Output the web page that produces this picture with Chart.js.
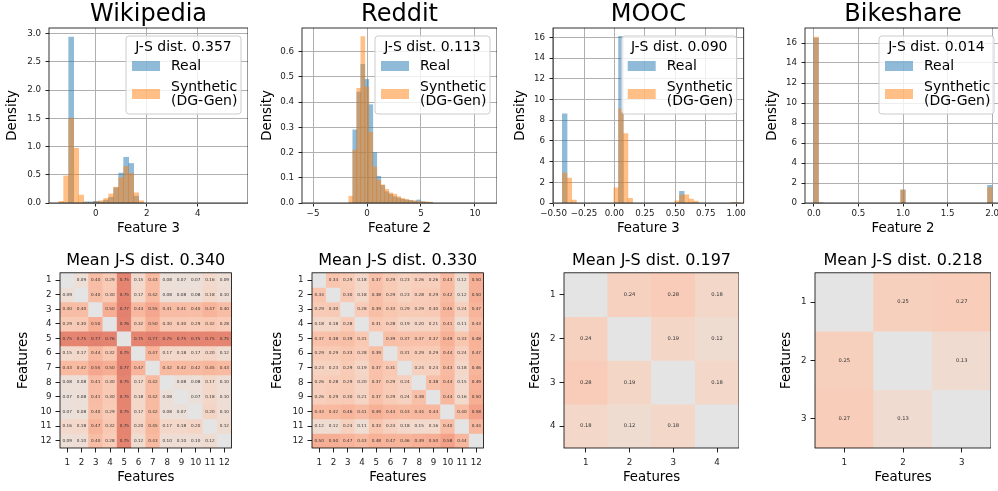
<!DOCTYPE html>
<html>
<head>
<meta charset="utf-8">
<script src="https://cdn.jsdelivr.net/npm/chart.js@4.4.0/dist/chart.umd.min.js"></script>
<style>
  html, body { margin: 0; padding: 0; background: #fff; overflow: hidden; }
  body { width: 998px; height: 491px; position: relative; }
  canvas { position: absolute; }
</style>
</head>
<body>
<canvas id="hist-wiki"></canvas>
<canvas id="hist-reddit"></canvas>
<canvas id="hist-mooc"></canvas>
<canvas id="hist-bike"></canvas>
<canvas id="heat-wiki"></canvas>
<canvas id="heat-reddit"></canvas>
<canvas id="heat-mooc"></canvas>
<canvas id="heat-bike"></canvas>
<script>
Chart.defaults.font.family = '"DejaVu Sans", sans-serif';
Chart.defaults.color = '#222';

// --- histogram data (bin centres, densities) ---
const wikiBins = [-1.353, -1.157, -0.961, -0.765, -0.569, -0.373, -0.177, 0.019, 0.215, 0.411, 0.607, 0.803, 0.999, 1.195, 1.391, 1.587, 1.783];
const wikiReal = [0, 0, 2.94, 0, 0, 0.02, 0.02, 0.03, 0.02, 0.05, 0.10, 0.27, 0.53, 0.81, 0.70, 0.12, 0];
const wikiSynth = [0.03, 0.48, 1.50, 0.97, 0.14, 0.01, 0, 0.02, 0.04, 0.08, 0.16, 0.28, 0.45, 0.65, 0.52, 0.18, 0.04];

const redditBins = [-1.50, -1.13, -0.76, -0.39, -0.02, 0.35, 0.72, 1.09, 1.46, 1.83, 2.20, 2.57, 2.94, 3.31, 3.68, 4.05, 4.42, 4.79, 5.16, 5.53, 5.90];
const redditReal = [0, 0.29, 0.44, 0.55, 0.49, 0.39, 0.20, 0.106, 0.07, 0.045, 0.035, 0.025, 0.02, 0.015, 0.012, 0.01, 0.008, 0.012, 0.005, 0.003, 0.002];
const redditSynth = [0.027, 0.21, 0.455, 0.66, 0.46, 0.28, 0.143, 0.09, 0.072, 0.054, 0.04, 0.035, 0.025, 0.018, 0.014, 0.01, 0.008, 0.006, 0.005, 0.004, 0.003];

const moocBins = [-0.409, -0.3705, -0.332, 0.0145, 0.053, 0.0915, 0.130, 0.515, 0.5535, 0.592, 0.6305, 0.669, 0.977, 1.0155];
const moocReal = [8.6, 0, 0, 0, 16.1, 0, 0, 0, 1.13, 0, 0, 0, 0, 0];
const moocSynth = [2.9, 2.4, 0.28, 1.46, 9.1, 6.7, 0.45, 0.2, 0.78, 0.78, 0.39, 0.19, 0.07, 0.07];

const bikeBins = [0.02564, 0.07692, 1.0, 1.97436];
const bikeReal = [16.5, 0, 1.3, 1.77];
const bikeSynth = [16.6, 0, 1.3, 1.54];

// --- axis ticks ---
const wikiXTicks = [0, 2, 4];
const wikiXLabels = ['0', '2', '4'];
const wikiYTicks = [0, 0.5, 1, 1.5, 2, 2.5, 3];
const wikiYLabels = ['0.0', '0.5', '1.0', '1.5', '2.0', '2.5', '3.0'];
const redditXTicks = [-5, 0, 5, 10];
const redditXLabels = ['\u22125', '0', '5', '10'];
const redditYTicks = [0, 0.1, 0.2, 0.3, 0.4, 0.5, 0.6];
const redditYLabels = ['0.0', '0.1', '0.2', '0.3', '0.4', '0.5', '0.6'];
const moocXTicks = [-0.5, -0.25, 0, 0.25, 0.5, 0.75, 1];
const moocXLabels = ['\u22120.50', '\u22120.25', '0.00', '0.25', '0.50', '0.75', '1.00'];
const bikeXTicks = [0, 0.5, 1, 1.5, 2];
const bikeXLabels = ['0.0', '0.5', '1.0', '1.5', '2.0'];
const densityTicks = [0, 2, 4, 6, 8, 10, 12, 14, 16];
const densityLabels = ['0', '2', '4', '6', '8', '10', '12', '14', '16'];

const legendReal = ['Real'];
const legendSynth = ['Synthetic', '(DG-Gen)'];

// --- pairwise J-S distance matrices (null = diagonal) ---
const features12 = ['1', '2', '3', '4', '5', '6', '7', '8', '9', '10', '11', '12'];
const features4 = ['1', '2', '3', '4'];
const features3 = ['1', '2', '3'];

const wikiJS = [
    [null, 0.09, 0.40, 0.29, 0.75, 0.15, 0.43, 0.08, 0.07, 0.07, 0.16, 0.09],
    [0.09, null, 0.40, 0.30, 0.75, 0.17, 0.42, 0.08, 0.08, 0.08, 0.18, 0.10],
    [0.40, 0.40, null, 0.50, 0.77, 0.44, 0.55, 0.41, 0.41, 0.40, 0.47, 0.40],
    [0.29, 0.30, 0.50, null, 0.76, 0.32, 0.50, 0.30, 0.30, 0.29, 0.32, 0.28],
    [0.75, 0.75, 0.77, 0.76, null, 0.75, 0.77, 0.75, 0.75, 0.75, 0.75, 0.75],
    [0.15, 0.17, 0.44, 0.32, 0.75, null, 0.47, 0.17, 0.18, 0.17, 0.20, 0.12],
    [0.43, 0.42, 0.55, 0.50, 0.77, 0.47, null, 0.42, 0.42, 0.42, 0.45, 0.43],
    [0.08, 0.08, 0.41, 0.30, 0.75, 0.17, 0.42, null, 0.08, 0.08, 0.17, 0.10],
    [0.07, 0.08, 0.41, 0.30, 0.75, 0.18, 0.42, 0.08, null, 0.07, 0.18, 0.10],
    [0.07, 0.08, 0.40, 0.29, 0.75, 0.17, 0.42, 0.08, 0.07, null, 0.20, 0.10],
    [0.16, 0.18, 0.47, 0.32, 0.75, 0.20, 0.45, 0.17, 0.18, 0.20, null, 0.12],
    [0.09, 0.10, 0.40, 0.28, 0.75, 0.12, 0.43, 0.10, 0.10, 0.10, 0.12, null]
];
const redditJS = [
    [null, 0.34, 0.29, 0.18, 0.37, 0.29, 0.23, 0.26, 0.26, 0.43, 0.12, 0.50],
    [0.34, null, 0.30, 0.18, 0.38, 0.29, 0.23, 0.28, 0.29, 0.42, 0.12, 0.50],
    [0.29, 0.30, null, 0.28, 0.39, 0.33, 0.29, 0.29, 0.30, 0.46, 0.24, 0.47],
    [0.18, 0.18, 0.28, null, 0.31, 0.28, 0.19, 0.20, 0.21, 0.41, 0.11, 0.43],
    [0.37, 0.38, 0.39, 0.31, null, 0.39, 0.37, 0.37, 0.37, 0.49, 0.33, 0.48],
    [0.29, 0.29, 0.33, 0.28, 0.39, null, 0.31, 0.29, 0.29, 0.44, 0.24, 0.47],
    [0.23, 0.23, 0.29, 0.19, 0.37, 0.31, null, 0.24, 0.24, 0.43, 0.18, 0.46],
    [0.26, 0.28, 0.29, 0.20, 0.37, 0.29, 0.24, null, 0.38, 0.44, 0.15, 0.49],
    [0.26, 0.29, 0.30, 0.21, 0.37, 0.29, 0.24, 0.38, null, 0.44, 0.16, 0.50],
    [0.43, 0.42, 0.46, 0.41, 0.49, 0.44, 0.43, 0.44, 0.44, null, 0.40, 0.58],
    [0.12, 0.12, 0.24, 0.11, 0.33, 0.24, 0.18, 0.15, 0.16, 0.40, null, 0.44],
    [0.50, 0.50, 0.47, 0.43, 0.48, 0.47, 0.46, 0.49, 0.50, 0.58, 0.44, null]
];
const moocJS = [
    [null, 0.24, 0.28, 0.18],
    [0.24, null, 0.19, 0.12],
    [0.28, 0.19, null, 0.18],
    [0.18, 0.12, 0.18, null]
];
const bikeJS = [
    [null, 0.25, 0.27],
    [0.25, null, 0.13],
    [0.27, 0.13, null]
];

const REAL_COLOR = 'rgba(31,119,180,0.5)';
const SYNTH_COLOR = 'rgba(255,127,14,0.5)';
const TICK_FONT = { size: 8.7 };
const LABEL_FONT = { size: 13.3 };

// upper half of matplotlib's coolwarm (value 0 -> grey, 1 -> red)
const coolwarmTop = [[221,221,221],[229,216,209],[236,211,197],[241,204,185],[245,196,173],[247,187,160],[247,177,148],[246,167,135],[244,155,122],[241,143,111],[236,130,99],[229,116,89],[222,102,78],[213,87,69],[203,71,60],[192,52,51],[180,4,38]];

function cellColor(v) {
    const t = (v === null ? 0 : v) * 16;
    const i = Math.min(15, Math.floor(t));
    const f = t - i;
    const c = coolwarmTop[i].map((a, k) => a + (coolwarmTop[i + 1][k] - a) * f);
    // cells are slightly transparent over white
    return `rgb(${c.map(a => Math.round(a * 0.8 + 255 * 0.2)).join(',')})`;
}

function place(canvasId, box) {
    const el = document.getElementById(canvasId);
    el.width = box.width;
    el.height = box.height;
    el.style.left = box.left + 'px';
    el.style.top = box.top + 'px';
    el.style.width = box.width + 'px';
    el.style.height = box.height + 'px';
    return el.getContext('2d');
}

// black spines on all four sides
const framePlugin = {
    id: 'frame',
    afterDatasetsDraw(chart) {
        const { ctx, chartArea: a } = chart;
        ctx.save();
        ctx.strokeStyle = '#000';
        ctx.lineWidth = 0.8;
        ctx.strokeRect(a.left, a.top, a.right - a.left, a.bottom - a.top);
        ctx.restore();
    }
};

// matplotlib-like legend box with a title
const jsLegendPlugin = {
    id: 'jsLegend',
    afterDraw(chart, args, opts) {
        const { ctx, chartArea: a } = chart;
        const w = 115, h = 78;
        const x = a.right - 7 - w, y = a.top + 8;
        ctx.save();
        ctx.beginPath();
        ctx.roundRect(x, y, w, h, 3);
        ctx.fillStyle = 'rgba(255,255,255,0.8)';
        ctx.fill();
        ctx.strokeStyle = '#cccccc';
        ctx.lineWidth = 1;
        ctx.stroke();
        ctx.font = '14px "DejaVu Sans"';
        ctx.fillStyle = '#000';
        ctx.textBaseline = 'middle';
        ctx.textAlign = 'center';
        ctx.fillText(opts.title, x + w / 2, y + 11);
        ctx.textAlign = 'left';
        const rows = [{ mid: 30 }, { mid: 58 }];
        chart.data.datasets.forEach((ds, i) => {
            const mid = y + rows[i].mid;
            ctx.fillStyle = ds.backgroundColor;
            ctx.fillRect(x + 6, mid - 5, 28, 10);
            ctx.fillStyle = '#000';
            const lines = ds.legendLines;
            lines.forEach((line, j) => {
                ctx.fillText(line, x + 45, mid + (j - (lines.length - 1) / 2) * 14);
            });
        });
        ctx.restore();
    }
};

// value written in each heatmap cell
const cellTextPlugin = {
    id: 'cellText',
    afterDatasetsDraw(chart, args, opts) {
        const { ctx } = chart;
        ctx.save();
        ctx.font = `${opts.size}px "DejaVu Sans"`;
        ctx.fillStyle = '#333';
        ctx.textAlign = 'center';
        ctx.textBaseline = 'middle';
        chart.data.datasets.forEach((ds, i) => {
            chart.getDatasetMeta(i).data.forEach((bar, j) => {
                const v = ds.values[j];
                if (v === null) return;
                const p = bar.getCenterPoint();
                ctx.fillText(v.toFixed(2), p.x, p.y);
            });
        });
        ctx.restore();
    }
};

function createHistogram(canvasId, box, cfg) {
    const ctx = place(canvasId, box);
    const toPoints = vals => cfg.bins.map((x, i) => ({ x: x, y: vals[i] }));
    return new Chart(ctx, {
        type: 'bar',
        data: {
            // synthetic has the lower order so it is painted over the real bars
            datasets: [
                { label: 'Real', legendLines: legendReal, data: toPoints(cfg.real), backgroundColor: REAL_COLOR, order: 1 },
                { label: 'Synthetic (DG-Gen)', legendLines: legendSynth, data: toPoints(cfg.synth), backgroundColor: SYNTH_COLOR, order: 0 }
            ].map(ds => Object.assign(ds, { grouped: false, barPercentage: 1, categoryPercentage: 1, borderWidth: 0 }))
        },
        options: {
            responsive: false,
            animation: false,
            layout: { padding: 0 },
            plugins: {
                legend: { display: false },
                tooltip: { enabled: false },
                title: {
                    display: true, text: cfg.title, fullSize: false, color: '#000',
                    font: { size: 24, weight: 'normal', lineHeight: 1.125 },
                    padding: { top: 1, bottom: 0 }
                },
                jsLegend: { title: cfg.jsTitle }
            },
            scales: {
                x: {
                    type: 'linear', min: cfg.xMin, max: cfg.xMax, offset: false,
                    afterBuildTicks: s => { s.ticks = cfg.xTicks.map(v => ({ value: v })); },
                    afterFit: s => { s.height = box.xHeight; },
                    ticks: { callback: (v, i) => cfg.xLabels[i], autoSkip: false, maxRotation: 0, font: TICK_FONT, padding: 2 },
                    grid: { color: '#b0b0b0', lineWidth: 1, tickColor: '#222', tickLength: 3.5, offset: false },
                    border: { display: false },
                    title: { display: true, text: cfg.xTitle, color: '#000', font: LABEL_FONT, padding: { top: 0, bottom: 3.6 } }
                },
                y: {
                    min: 0, max: cfg.yMax,
                    afterBuildTicks: s => { s.ticks = cfg.yTicks.map(v => ({ value: v })); },
                    afterFit: s => { s.width = box.yWidth; },
                    ticks: { callback: (v, i) => cfg.yLabels[i], autoSkip: false, font: TICK_FONT, padding: 4.5 },
                    grid: { color: '#b0b0b0', lineWidth: 1, tickColor: '#222', tickLength: 3.5 },
                    border: { display: false },
                    title: { display: true, text: 'Density', color: '#000', font: LABEL_FONT, padding: 0 }
                }
            }
        },
        plugins: [framePlugin, jsLegendPlugin]
    });
}

function createHeatmap(canvasId, box, cfg) {
    const ctx = place(canvasId, box);
    const n = cfg.matrix.length;
    return new Chart(ctx, {
        type: 'bar',
        data: {
            labels: cfg.labels,
            datasets: cfg.matrix.map((row, r) => ({
                label: cfg.labels[r],
                values: row,
                data: row.map(() => 1),
                backgroundColor: row.map(v => cellColor(v)),
                barPercentage: 1,
                categoryPercentage: 1,
                borderWidth: 0
            }))
        },
        options: {
            responsive: false,
            animation: false,
            layout: { padding: 0 },
            plugins: {
                legend: { display: false },
                tooltip: { enabled: false },
                title: {
                    display: true, text: cfg.title, fullSize: false, color: '#000',
                    font: { size: 16, weight: 'normal', lineHeight: 1.2 },
                    padding: { top: 0, bottom: 2.6 }
                },
                cellText: { size: cfg.textSize }
            },
            scales: {
                x: {
                    stacked: true,
                    afterFit: s => { s.height = box.xHeight; },
                    ticks: { autoSkip: false, maxRotation: 0, font: TICK_FONT, padding: 5 },
                    grid: { drawOnChartArea: false, offset: false, tickColor: '#222', tickLength: 4.5 },
                    border: { display: false },
                    title: { display: true, text: 'Features', color: '#000', font: LABEL_FONT, padding: { top: 0, bottom: 5 } }
                },
                y: {
                    stacked: true, reverse: true, min: 0, max: n,
                    afterBuildTicks: s => { s.ticks = cfg.labels.map((l, i) => ({ value: i + 0.5 })); },
                    afterFit: s => { s.width = box.yWidth; },
                    ticks: { callback: (v, i) => cfg.labels[i], autoSkip: false, font: TICK_FONT, padding: 4 },
                    grid: { drawOnChartArea: false, tickColor: '#222', tickLength: 4.5 },
                    border: { display: false },
                    title: { display: true, text: 'Features', color: '#000', font: LABEL_FONT, padding: 0 }
                }
            }
        },
        plugins: [framePlugin, cellTextPlugin]
    });
}

// top row: feature histograms
createHistogram('hist-wiki', { left: 5, top: 0, width: 243, height: 240, yWidth: 44, xHeight: 37 }, {
    title: 'Wikipedia', jsTitle: 'J-S dist. 0.357', xTitle: 'Feature 3',
    bins: wikiBins, real: wikiReal, synth: wikiSynth,
    xMin: -1.83, xMax: 5.97, xTicks: wikiXTicks, xLabels: wikiXLabels,
    yMax: 3.1, yTicks: wikiYTicks, yLabels: wikiYLabels
});
createHistogram('hist-reddit', { left: 260, top: 0, width: 237, height: 240, yWidth: 42, xHeight: 37 }, {
    title: 'Reddit', jsTitle: 'J-S dist. 0.113', xTitle: 'Feature 2',
    bins: redditBins, real: redditReal, synth: redditSynth,
    xMin: -6.02, xMax: 12.04, xTicks: redditXTicks, xLabels: redditXLabels,
    yMax: 0.694, yTicks: redditYTicks, yLabels: redditYLabels
});
createHistogram('hist-mooc', { left: 513, top: 0, width: 235, height: 240, yWidth: 40, xHeight: 37 }, {
    title: 'MOOC', jsTitle: 'J-S dist. 0.090', xTitle: 'Feature 3',
    bins: moocBins, real: moocReal, synth: moocSynth,
    xMin: -0.505, xMax: 1.062, xTicks: moocXTicks, xLabels: moocXLabels,
    yMax: 16.9, yTicks: densityTicks, yLabels: densityLabels
});
createHistogram('hist-bike', { left: 765, top: 0, width: 236, height: 240, yWidth: 40, xHeight: 37 }, {
    title: 'Bikeshare', jsTitle: 'J-S dist. 0.014', xTitle: 'Feature 2',
    bins: bikeBins, real: bikeReal, synth: bikeSynth,
    xMin: -0.1, xMax: 2.1, xTicks: bikeXTicks, xLabels: bikeXLabels,
    yMax: 17.5, yTicks: densityTicks, yLabels: densityLabels
});

// bottom row: pairwise J-S distance heatmaps
createHeatmap('heat-wiki', { left: 16, top: 251, width: 219, height: 240, yWidth: 44, xHeight: 43 }, {
    title: 'Mean J-S dist. 0.340', matrix: wikiJS, labels: features12, textSize: 4.2
});
createHeatmap('heat-reddit', { left: 270, top: 251, width: 217, height: 240, yWidth: 42, xHeight: 43 }, {
    title: 'Mean J-S dist. 0.330', matrix: redditJS, labels: features12, textSize: 4.2
});
createHeatmap('heat-mooc', { left: 528, top: 251, width: 211, height: 240, yWidth: 36, xHeight: 43 }, {
    title: 'Mean J-S dist. 0.197', matrix: moocJS, labels: features4, textSize: 5.2
});
createHeatmap('heat-bike', { left: 779, top: 251, width: 212, height: 240, yWidth: 36, xHeight: 43 }, {
    title: 'Mean J-S dist. 0.218', matrix: bikeJS, labels: features3, textSize: 5.2
});
</script>
</body>
</html>
